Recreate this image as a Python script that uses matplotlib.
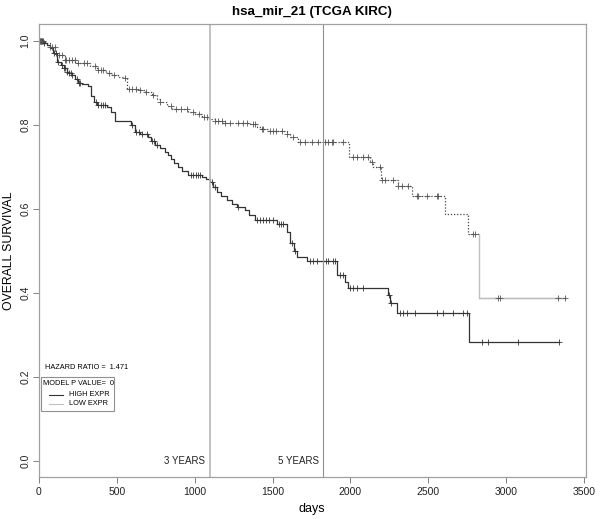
import numpy as np
import matplotlib
matplotlib.use("Agg")
import matplotlib.pyplot as plt
from matplotlib.patches import Rectangle

plt.rcParams['font.family'] = ['Liberation Sans', 'DejaVu Sans']

# Kaplan-Meier steps (days, survival after the step)
high_t = [0, 30, 50, 70, 92, 114, 140, 160, 178, 195, 210, 230, 250, 274, 315, 335, 355, 370,
          435, 460, 488, 590, 617, 650, 700, 720, 745, 780, 810, 829, 850, 870, 893, 920, 957,
          1045, 1075, 1098, 1120, 1141, 1170, 1205, 1240, 1270, 1323, 1350, 1387, 1527, 1595,
          1612, 1635, 1655, 1719, 1912, 1965, 1987, 2244, 2255, 2297, 2764]
high_s = [1.0, 0.995, 0.99, 0.983, 0.971, 0.951, 0.943, 0.935, 0.927, 0.923, 0.919, 0.91, 0.90,
          0.899, 0.893, 0.87, 0.855, 0.847, 0.843, 0.83, 0.81, 0.80, 0.784, 0.778, 0.772, 0.762,
          0.752, 0.745, 0.735, 0.728, 0.72, 0.71, 0.70, 0.69, 0.681, 0.677, 0.671, 0.665, 0.652,
          0.641, 0.632, 0.621, 0.612, 0.604, 0.597, 0.585, 0.573, 0.563, 0.545, 0.518, 0.50,
          0.486, 0.476, 0.442, 0.426, 0.411, 0.395, 0.376, 0.353, 0.282]
high_end = 3342

low_t = [0, 40, 70, 103, 167, 231, 330, 370, 430, 470, 510, 552, 563, 638, 680, 724, 760, 777,
         820, 852, 959, 1000, 1045, 1090, 1130, 1182, 1355, 1398, 1430, 1473, 1590, 1612, 1665,
         1990, 2126, 2147, 2194, 2308, 2393, 2608, 2757, 2828]
low_s = [1.0, 0.995, 0.985, 0.966, 0.956, 0.949, 0.94, 0.931, 0.925, 0.92, 0.915, 0.911, 0.887,
         0.883, 0.878, 0.871, 0.862, 0.855, 0.845, 0.838, 0.832, 0.826, 0.818, 0.814, 0.810,
         0.806, 0.802, 0.796, 0.79, 0.786, 0.779, 0.772, 0.760, 0.724, 0.712, 0.700, 0.669,
         0.654, 0.631, 0.589, 0.540, 0.387]
low_end = 3378

# censoring times
high_cens = [5, 12, 18, 25, 30, 95, 110, 125, 150, 160, 170, 180, 195, 205, 212, 245, 255, 262,
             365, 380, 395, 410, 424, 600, 620, 640, 660, 693, 724, 740, 757, 975, 990, 1005,
             1020, 1034, 1109, 1130, 1280, 1400, 1420, 1440, 1460, 1480, 1500, 1540, 1555, 1567,
             1623, 1644, 1741, 1762, 1784, 1826, 1843, 1858, 1890, 1901, 1933, 1950, 1997, 2019,
             2040, 2083, 2250, 2259, 2319, 2340, 2362, 2415, 2554, 2593, 2661, 2721, 2747, 2843,
             2886, 3078, 3342]
low_cens = [8, 15, 22, 70, 85, 100, 130, 150, 167, 175, 190, 210, 230, 250, 290, 306, 360, 380,
            400, 413, 450, 480, 552, 580, 600, 620, 650, 690, 733, 777, 850, 880, 910, 950, 990,
            1030, 1060, 1080, 1130, 1152, 1173, 1195, 1227, 1280, 1312, 1334, 1377, 1387, 1430,
            1441, 1484, 1501, 1522, 1559, 1591, 1633, 1676, 1708, 1751, 1794, 1837, 1858, 1880,
            1890, 1954, 2019, 2040, 2083, 2115, 2136, 2190, 2201, 2222, 2276, 2308, 2329, 2372,
            2426, 2436, 2490, 2554, 2565, 2789, 2800, 2945, 2960, 3335, 3378]

x_ticks = [0, 500, 1000, 1500, 2000, 2500, 3000, 3500]
y_ticks = [0.0, 0.2, 0.4, 0.6, 0.8, 1.0]
year_lines = [1095, 1825]
year_labels = ["3 YEARS", "5 YEARS"]


def surv_at(times, surv, c):
    i = np.searchsorted(times, c, side='right') - 1
    return np.asarray(surv)[i]


fig = plt.figure(figsize=(6.0, 5.19), dpi=100)
ax = fig.add_axes([0.065, 0.0803, 0.911, 0.8727])

# high expression curve
ht = list(high_t) + [high_end]
hs = list(high_s) + [high_s[-1]]
ax.step(ht, hs, where='post', color='#333333', lw=0.9)
ax.plot(high_cens, surv_at(high_t, high_s, np.array(high_cens)), '+', color='#333333',
        ms=5, mew=0.6)

# low expression curve: dotted until the last drop, light grey afterwards
lt = list(low_t) + [low_end]
ls = list(low_s) + [low_s[-1]]
ax.step(lt[:-2], ls[:-2], where='post', color='#444444', lw=0.9, linestyle=(0, (1, 1.5)))
ax.plot([lt[-3], lt[-2]], [ls[-3], ls[-3]], color='#444444', lw=0.9, linestyle=(0, (1, 1.5)))
ax.step(lt[-2:], [ls[-3], ls[-2]], where='pre', color='#c0c0c0', lw=1.0)
ax.plot([lt[-2], lt[-1]], [ls[-2], ls[-1]], color='#c0c0c0', lw=1.0)
ax.plot(low_cens, surv_at(low_t, low_s, np.array(low_cens)), '+', color='#555555',
        ms=5, mew=0.6)

# 3 and 5 year markers
ax.axvline(year_lines[0], color='#b8b8b8', lw=1.2)
ax.axvline(year_lines[1], color='#909090', lw=0.8)
for xv, lab in zip(year_lines, year_labels):
    ax.text(xv - 28, 0.0, lab, ha='right', va='center', fontsize=7, color='#222222')

ax.set_xlim(0, 3510)
ax.set_ylim(-0.04, 1.04)
ax.set_xticks(x_ticks)
ax.set_xticklabels([str(v) for v in x_ticks])
ax.set_yticks(y_ticks)
ax.set_yticklabels(["%.1f" % v for v in y_ticks], rotation=90, va='center')
ax.tick_params(direction='out', length=4, width=0.7, color='#808080', labelsize=7.5,
               labelcolor='#222222', pad=3)
ax.tick_params(axis='y', pad=2)
for sp in ax.spines.values():
    sp.set_color('#a0a0a0')
    sp.set_linewidth(0.9)

ax.set_xlabel("days", fontsize=9, labelpad=4)
ax.set_ylabel("OVERALL SURVIVAL", fontsize=8.8, labelpad=4)
ax.set_title("hsa_mir_21 (TCGA KIRC)", fontsize=9.6, fontweight='bold', pad=7)

# hazard ratio and legend box
ax.text(38, 0.222, "HAZARD RATIO =  1.471", fontsize=5.3, va='center', ha='left')
ax.add_patch(Rectangle((13, 0.119), 471, 0.081, fill=False, edgecolor='#909090', lw=0.8))
ax.text(28, 0.184, "MODEL P VALUE=  0", fontsize=5.3, va='center', ha='left')
ax.plot([64, 155], [0.157, 0.157], color='#333333', lw=0.8)
ax.plot([64, 155], [0.135, 0.135], color='#c0c0c0', lw=0.8)
ax.text(195, 0.157, "HIGH EXPR", fontsize=5.3, va='center', ha='left')
ax.text(195, 0.135, "LOW EXPR", fontsize=5.3, va='center', ha='left')

fig.savefig("out.png", dpi=100)
